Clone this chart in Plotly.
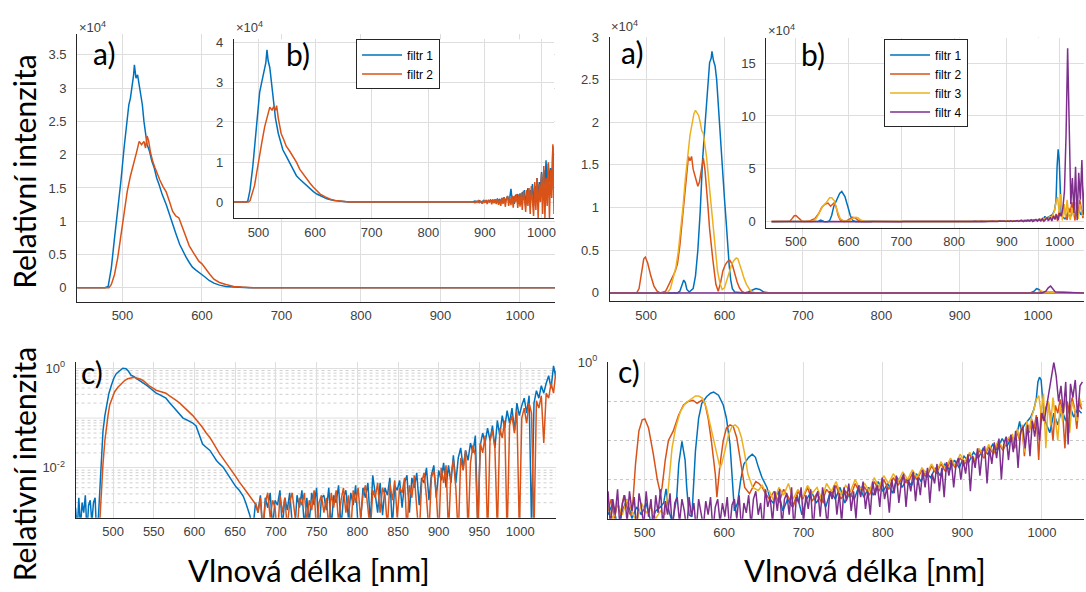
import numpy as np
import plotly.graph_objects as go

C1, C2, C3, C4 = "#0072BD", "#D95319", "#EDB120", "#7E2F8E"

# ================= Top-left a) : intensity (x10^4) =================
tla_f1_x = [443, 478, 482, 486, 490, 494, 498, 502, 505, 508, 510, 512, 514, 515, 517, 519, 521, 523, 525, 527,
            529, 531, 534, 537, 540, 543, 546, 550, 555, 559, 563, 567, 572, 576, 580, 584, 588, 592, 597, 603,
            609, 615, 622, 630, 640, 660, 1044]
tla_f1_y = [0, 0, 0.02, 0.3, 0.75, 1.15, 1.6, 2.1, 2.45, 2.75, 2.85, 3.0, 3.2, 3.35, 3.15, 3.2, 3.05, 2.95, 2.75, 2.5,
            2.3, 2.15, 2.05, 1.9, 1.8, 1.65, 1.55, 1.4, 1.25, 1.1, 0.95, 0.82, 0.65, 0.55, 0.46, 0.38, 0.31, 0.27, 0.23, 0.17,
            0.11, 0.07, 0.04, 0.02, 0.01, 0, 0]
tla_f2_x = [443, 483, 486, 490, 494, 498, 502, 506, 510, 514, 518, 521, 524, 527, 529, 531, 533, 535, 538, 541,
            544, 547, 551, 555, 559, 563, 567, 571, 575, 580, 584, 588, 592, 596, 600, 605, 610, 615, 622, 630,
            640, 650, 665, 1044]
tla_f2_y = [0, 0, 0.05, 0.2, 0.45, 0.8, 1.15, 1.45, 1.68, 1.85, 2.05, 2.2, 2.15, 2.2, 2.1, 2.28, 2.2, 2.05, 1.9, 1.8,
            1.7, 1.62, 1.52, 1.44, 1.3, 1.15, 1.08, 1.05, 0.92, 0.75, 0.63, 0.55, 0.47, 0.4, 0.36, 0.27, 0.2, 0.13, 0.08, 0.05,
            0.02, 0.01, 0, 0]

# ================= Top-left b) inset (x10^4) =================
tlb_f1_x = [456, 478, 481, 485, 490, 495, 499, 502, 505, 508, 511, 513, 515, 517, 520, 523, 526, 530, 535, 539,
            543, 549, 555, 561, 567, 573, 579, 585, 591, 597, 603, 612, 621, 633, 645, 660, 878]
tlb_f1_y = [0, 0, 0.02, 0.3, 0.9, 1.7, 2.38, 2.75, 2.96, 3.15, 3.29, 3.5, 3.82, 3.55, 3.37, 2.95, 2.55, 2.1, 1.72, 1.5,
            1.31, 1.15, 0.99, 0.82, 0.66, 0.57, 0.49, 0.4, 0.33, 0.26, 0.2, 0.13, 0.08, 0.04, 0.02, 0.0, 0.0]
tlb_f2_x = [456, 482, 485, 489, 493, 497, 502, 506, 511, 515, 520, 524, 527, 530, 532, 535, 540, 545, 549, 555,
            561, 567, 573, 579, 585, 591, 597, 603, 609, 618, 627, 636, 645, 660, 878]
tlb_f2_y = [0, 0, 0.03, 0.2, 0.41, 0.75, 1.23, 1.5, 1.89, 2.1, 2.38, 2.3, 2.4, 2.3, 2.42, 2.1, 1.72, 1.55, 1.4, 1.28,
            1.15, 1.0, 0.82, 0.7, 0.57, 0.47, 0.37, 0.28, 0.2, 0.13, 0.07, 0.04, 0.02, 0.0, 0.0]
tlb_noise_x = np.arange(880, 1023, 2)
tlb_f1_noise = [0.01, 0.02, -0.01, 0.02, 0.0, 0.03, 0.01, -0.02, 0.02, 0.04, 0.0, 0.03, -0.01, 0.04, 0.02, 0.05, 0.01, 0.06, -0.02, 0.05, 0.03,
                0.07, 0.02, 0.08, -0.03, 0.1, 0.04, 0.12, 0.0, 0.09, 0.15, 0.03, 0.12, 0.33, 0.05, 0.14, -0.05, 0.18, 0.08, 0.2, 0.02,
                0.22, -0.06, 0.25, 0.1, 0.3, -0.08, 0.2, 0.35, 0.0, 0.3, 0.15, 0.45, -0.1, 0.4, 0.2, 0.6, 0.05, 0.5, 0.3, 0.75,
                0.1, 0.8, 0.4, 1.05, 0.2, 0.95, 0.5, 0.85, 0.3, 1.4, 0.6]
tlb_f2_noise = [0.0, -0.02, 0.02, -0.01, 0.03, -0.03, 0.02, 0.01, -0.04, 0.04, -0.02, 0.05, -0.05, 0.04, 0.0, 0.06, -0.06, 0.05, -0.03, 0.07, -0.05,
                0.08, -0.07, 0.06, -0.1, 0.1, -0.05, 0.12, -0.12, 0.09, 0.14, -0.1, 0.12, -0.08, 0.16, -0.14, 0.15, 0.0, 0.2, -0.15, 0.18,
                -0.12, 0.22, -0.2, 0.28, 0.05, -0.25, 0.3, -0.1, 0.35, -0.3, 0.4, 0.1, -0.35, 0.5, -0.2, 0.6, -0.4, 0.45, 0.0, 0.7,
                -0.3, 0.9, -0.4, 0.6, -0.1, 1.0, -0.42, 0.8, 0.1, 1.45, -0.3]

# ================= Bottom-left c) : log10 of normalised intensity =================
blc_f1_pre_x = np.arange(454, 481, 2)
blc_f1_pre = [-2.8, -3.3, -2.6, -3.2, -2.7, -2.9, -2.55, -3.3, -2.75, -2.65, -3.1, -2.7, -2.6, -3.4]
blc_f1_sx = [482, 483.6, 485.5, 487.7, 490, 492, 495, 498, 501, 504, 508, 512, 516, 519, 522, 526, 529, 533, 537, 541,
             545, 549, 553, 557, 561, 565, 569, 574, 578, 582, 586, 590, 594, 598, 602, 606, 610, 614, 619, 623,
             627, 631, 635, 639, 643, 647, 651, 655, 660, 663, 666, 668, 670]
blc_f1_sv = [-3.0, -2.44, -1.8, -1.26, -0.95, -0.73, -0.5, -0.34, -0.2, -0.11, -0.05, 0.0, -0.01, -0.06, -0.14, -0.17, -0.21, -0.25, -0.3, -0.34,
             -0.39, -0.44, -0.5, -0.53, -0.57, -0.6, -0.68, -0.77, -0.85, -0.93, -1.0, -1.03, -1.06, -1.1, -1.16, -1.35, -1.52, -1.58, -1.65, -1.75,
             -1.85, -1.92, -1.98, -2.08, -2.18, -2.28, -2.38, -2.45, -2.57, -2.7, -2.83, -2.95, -3.1]
blc_f1_nx = np.arange(672, 1045, 3)
blc_f1_nv = [-3.2, -2.7, -2.9, -2.55, -3.3, -2.6, -2.8, -2.5, -3.2, -2.65,
             -2.75, -2.45, -3.2, -2.6, -2.85, -2.5, -3.1, -3.3, -2.55, -2.8,
             -2.45, -3.2, -2.6, -3.1, -2.5, -2.75, -2.4, -3.3, -2.6, -2.55,
             -2.85, -2.4, -3.2, -2.55, -2.7, -2.35, -3.2, -2.6, -2.45, -3.0,
             -2.5, -2.75, -2.35, -3.2, -3.1, -2.4, -2.6, -2.3, -3.1, -2.15,
             -2.5, -2.9, -2.3, -2.95, -2.4, -2.55, -2.2, -3.2, -2.35, -2.45,
             -2.25, -2.8, -2.3, -2.15, -2.9, -2.2, -2.4, -2.1, -2.75, -2.2,
             -2.3, -2.0, -2.65, -2.15, -1.95, -2.6, -2.05, -2.25, -1.9, -2.4,
             -1.95, -2.3, -1.75, -2.3, -1.8, -1.6, -2.0, -1.65, -1.85, -1.5,
             -1.7, -1.35, -3.2, -1.55, -1.3, -1.5, -1.2, -1.45, -1.15, -1.6,
             -1.05, -1.35, -0.95, -1.2, -0.85, -1.1, -0.8, -1.25, -0.7, -0.95,
             -0.75, -0.6, -0.9, -0.55, -3.2, -0.7, -0.45, -0.6, -0.35, -0.5,
             -0.3, -0.15, -0.4, 0.05, -0.2]
blc_f2_sx = [483, 485, 487.7, 490, 492, 494, 496, 499, 502, 506, 510, 514, 518, 522, 526, 530, 534, 538, 541, 545,
             549, 553, 557, 561, 565, 569, 574, 578, 582, 586, 590, 594, 598, 602, 606, 610, 614, 619, 623, 627,
             631, 635, 639, 643, 647, 651, 655, 660, 664, 668, 672, 676]
blc_f2_sv = [-3.3, -2.6, -1.92, -1.45, -1.13, -0.93, -0.73, -0.58, -0.47, -0.38, -0.31, -0.25, -0.21, -0.19, -0.18, -0.2, -0.22, -0.26, -0.31, -0.36,
             -0.4, -0.44, -0.46, -0.48, -0.5, -0.55, -0.6, -0.65, -0.7, -0.76, -0.82, -0.87, -0.95, -1.03, -1.1, -1.19, -1.29, -1.39, -1.5, -1.62,
             -1.72, -1.81, -1.9, -1.98, -2.08, -2.18, -2.28, -2.38, -2.48, -2.57, -2.65, -2.75]
blc_f2_nx = np.arange(678, 1045, 3)
blc_f2_nv = [-2.9, -2.6, -3.3, -2.7, -2.5, -3.0, -2.65, -2.8, -3.4, -2.55,
             -2.9, -2.6, -3.2, -2.7, -2.5, -2.95, -3.3, -2.6, -2.75, -2.5,
             -3.1, -2.65, -2.85, -2.45, -3.3, -2.7, -2.55, -2.9, -2.6, -3.2,
             -2.5, -2.8, -2.45, -3.1, -2.65, -2.4, -2.9, -2.55, -3.3, -2.45,
             -2.7, -2.4, -3.0, -2.55, -2.35, -2.8, -3.3, -2.45, -2.6, -2.3,
             -2.9, -2.4, -2.55, -3.2, -2.3, -2.65, -2.25, -3.0, -2.4, -2.5,
             -2.2, -3.3, -2.35, -2.6, -2.15, -2.8, -3.4, -2.3, -2.1, -2.6,
             -3.3, -2.2, -2.05, -2.5, -3.4, -2.0, -2.3, -1.95, -3.3, -2.15,
             -1.85, -2.4, -3.4, -1.8, -2.05, -1.65, -3.3, -1.9, -1.55, -1.75,
             -3.3, -1.5, -1.7, -1.35, -3.4, -1.45, -1.25, -1.6, -3.3, -1.2,
             -1.4, -1.05, -3.4, -1.15, -0.95, -1.3, -0.85, -3.3, -1.0, -0.8,
             -1.1, -0.7, -0.9, -3.3, -0.65, -0.8, -0.55, -1.5, -0.5, -0.6,
             -0.3, -0.5, -0.05]

# ================= Top-right a) : intensity (x10^4) =================
tra_f1_x = [453, 540, 543, 546, 548, 550, 552, 555, 560, 563, 566, 569, 572, 575, 577, 579, 581, 583, 584, 586,
            588, 590, 592, 594, 596, 598, 600, 602, 604, 606, 608, 610, 613, 625, 630, 635, 640, 645, 650, 658,
            990, 995, 998, 1001, 1004, 1059]
tra_f1_y = [0, 0, 0.02, 0.1, 0.15, 0.12, 0.04, 0.01, 0.05, 0.2, 0.5, 0.95, 1.55, 1.95, 2.2, 2.5, 2.7, 2.75, 2.83, 2.72,
            2.66, 2.5, 2.2, 1.95, 1.65, 1.4, 1.1, 0.85, 0.55, 0.32, 0.15, 0.05, 0.01, 0, 0.01, 0.03, 0.05, 0.04, 0.01, 0,
            0, 0.02, 0.05, 0.04, 0.01, 0]
tra_f2_x = [453, 488, 491, 494, 497, 499, 502, 506, 510, 514, 518, 525, 529, 533, 537, 540, 543, 546, 549, 552,
            554, 556, 558, 560, 562, 564, 566, 568, 570, 572, 573, 575, 577, 579, 581, 583, 585, 587, 589, 592,
            595, 598, 601, 604, 607, 610, 613, 616, 619, 622, 626, 1059]
tra_f2_y = [0, 0, 0.05, 0.25, 0.4, 0.42, 0.35, 0.2, 0.08, 0.02, 0, 0.02, 0.1, 0.18, 0.25, 0.34, 0.55, 0.84, 1.15, 1.45,
            1.6, 1.55, 1.6, 1.45, 1.38, 1.3, 1.25, 1.3, 1.42, 1.5, 1.58, 1.45, 1.26, 1.0, 0.75, 0.55, 0.4, 0.25, 0.1, 0.02,
            0.12, 0.26, 0.33, 0.37, 0.38, 0.33, 0.22, 0.13, 0.06, 0.02, 0, 0]
tra_f3_x = [453, 527, 531, 535, 538, 541, 544, 547, 550, 553, 556, 559, 561, 563, 565, 567, 569, 571, 573, 575,
            577, 579, 582, 585, 588, 591, 594, 597, 600, 603, 606, 609, 612, 615, 617, 619, 622, 625, 628, 632,
            636, 640, 1000, 1003, 1007, 1059]
tra_f3_y = [0, 0, 0.05, 0.18, 0.3, 0.48, 0.72, 1.0, 1.33, 1.6, 1.85, 2.0, 2.1, 2.14, 2.1, 2.08, 2.0, 1.9, 1.87, 1.75,
            1.6, 1.41, 1.1, 0.8, 0.5, 0.26, 0.12, 0.04, 0.06, 0.15, 0.24, 0.33, 0.38, 0.41, 0.4, 0.35, 0.26, 0.17, 0.1, 0.04,
            0.01, 0, 0, 0.03, 0.01, 0]
tra_f4_x = [453, 1005, 1010, 1013, 1016, 1019, 1022, 1059]
tra_f4_y = [0, 0, 0.02, 0.06, 0.08, 0.05, 0.01, 0]

# ================= Top-right b) / bottom-right c) : log10(I / I_max) =================
trc_peak = 16.4  # maximum (filtr 4 at ~1015 nm), x10^4

trc_f1_pre_x = np.arange(454, 521, 6)
trc_f1_pre = [-3.9, -3.6, -4.2, -3.8, -3.5, -4.0, -3.7, -3.9, -3.6, -4.1, -3.8, -3.7]
trc_f1_sx = [524, 527, 530.5, 535, 540.5, 543, 547, 551, 553, 556, 559.5, 564, 568, 572, 578, 583, 587, 593, 599, 603,
             607.5, 610.5, 613, 617, 621, 625, 631, 635.5, 639.5, 643.5, 647.6, 654, 658]
trc_f1_sv = [-3.6, -3.24, -3.8, -4.1, -3.45, -2.6, -2.02, -2.5, -3.2, -3.9, -3.95, -2.27, -1.43, -1.05, -0.88, -0.79, -0.76, -0.84, -1.09, -1.43,
             -2.1, -3.0, -3.8, -3.6, -3.0, -2.6, -2.43, -2.35, -2.43, -2.7, -2.94, -3.2, -3.5]
trc_f1_fx = np.arange(662, 957, 6)
trc_f1_fv = [-3.6, -3.3, -3.8, -3.5, -3.7, -3.4, -3.9, -3.5, -3.3, -3.6,
             -3.4, -3.7, -3.3, -3.5, -3.2, -3.6, -3.35, -3.5, -3.15, -3.45,
             -3.2, -3.4, -3.05, -3.3, -3.1, -3.35, -2.95, -3.2, -3.0, -3.15,
             -2.85, -3.05, -2.8, -2.95, -2.7, -2.9, -2.6, -2.75, -2.5, -2.7,
             -2.4, -2.55, -2.3, -2.45, -2.2, -2.35, -2.1, -2.25, -1.95, -2.15]
trc_f1_ex = [962, 966, 970, 972, 974, 978, 982, 986, 990, 993, 995, 997, 999, 1001, 1003, 1006, 1010, 1015, 1020, 1025,
             1030, 1035, 1040, 1045, 1050]
trc_f1_ev = [-1.9, -2.0, -1.7, -1.51, -1.76, -1.6, -1.5, -1.4, -1.2, -0.92, -0.5, -0.38, -0.45, -0.92, -1.43, -1.6, -1.8, -1.3, -1.6, -1.2,
             -1.5, -1.1, -1.4, -1.2, -1.3]

trc_f2_pre_x = np.arange(454, 483, 4)
trc_f2_pre = [-3.8, -3.5, -4.0, -3.6, -3.9, -3.4, -3.7, -3.9]
trc_f2_sx = [484.5, 488.6, 492.8, 497, 500.3, 505, 511, 516, 520, 522, 526, 530, 536, 543, 549, 555, 561, 566, 572, 576,
             580, 584, 589, 591, 595, 599, 603, 607.6, 611.6, 616, 620, 626, 632, 636, 640, 644, 648, 652]
trc_f2_sv = [-3.8, -2.6, -1.76, -1.47, -1.45, -1.68, -2.35, -3.0, -3.36, -3.2, -2.5, -2.0, -1.76, -1.34, -1.09, -1.0, -0.97, -1.05, -0.97, -1.05,
             -1.43, -2.0, -2.86, -3.45, -2.6, -2.0, -1.68, -1.6, -1.64, -1.93, -2.44, -3.2, -3.36, -3.2, -3.05, -3.1, -3.2, -3.35]
trc_f2_fx = np.arange(657, 958, 6)
trc_f2_fv = [-3.5, -3.3, -3.6, -3.25, -3.45, -3.7, -3.3, -3.5, -3.2, -3.55,
             -3.35, -3.6, -3.25, -3.4, -3.15, -3.5, -3.3, -3.45, -3.1, -3.35,
             -3.2, -3.4, -3.05, -3.3, -3.0, -3.25, -2.95, -3.15, -2.9, -3.1,
             -2.85, -3.0, -2.75, -2.95, -2.65, -2.85, -2.6, -2.8, -2.5, -2.7,
             -2.45, -2.6, -2.35, -2.55, -2.25, -2.45, -2.15, -2.35, -2.05, -2.25,
             -2.0]
trc_f2_ex = np.arange(963, 1051, 3)
trc_f2_ev = [-1.9, -2.2, -1.75, -2.0, -1.6, -2.4, -1.55, -1.8, -1.45, -1.7,
             -1.35, -2.5, -1.2, -1.5, -1.15, -1.0, -1.4, -2.0, -1.1, -1.3,
             -0.95, -1.25, -2.2, -1.0, -1.35, -0.9, -1.15, -1.7, -1.0, -1.2]

trc_f3_pre_x = np.arange(454, 521, 6)
trc_f3_pre = [-3.7, -4.0, -3.6, -3.9, -3.5, -3.8, -4.1, -3.6, -3.85, -3.7, -4.0, -3.8]
trc_f3_sx = [526, 530, 534.5, 539, 545, 551, 557, 564, 568, 573, 578, 584, 591, 595, 597, 601, 605.6, 610, 614, 618,
             622, 626, 630, 636, 643, 648, 652]
trc_f3_sv = [-3.9, -3.2, -2.2, -1.68, -1.26, -1.05, -0.97, -0.86, -0.86, -0.92, -1.18, -1.76, -2.35, -2.7, -2.6, -2.27, -1.85, -1.64, -1.6, -1.68,
             -1.93, -2.35, -2.86, -3.2, -3.28, -3.15, -3.3]
trc_f3_fx = np.arange(657, 958, 6)
trc_f3_fv = [-3.3, -3.55, -3.2, -3.4, -3.1, -3.5, -3.25, -3.45, -3.15, -3.35,
             -3.2, -3.5, -3.1, -3.3, -3.05, -3.4, -3.15, -3.3, -3.0, -3.25,
             -3.1, -3.3, -2.95, -3.2, -2.9, -3.1, -2.85, -3.05, -2.8, -3.0,
             -2.75, -2.95, -2.7, -2.85, -2.6, -2.8, -2.55, -2.7, -2.45, -2.65,
             -2.35, -2.55, -2.3, -2.5, -2.2, -2.4, -2.1, -2.3, -2.0, -2.2,
             -1.95]
trc_f3_ex = np.arange(963, 1051, 3)
trc_f3_ev = [-1.85, -2.1, -1.7, -1.95, -1.6, -2.3, -1.5, -1.75, -1.4, -1.2,
             -0.95, -0.85, -1.3, -0.8, -2.2, -1.0, -1.6, -0.9, -1.4, -2.0,
             -1.1, -1.5, -0.95, -1.3, -1.8, -1.0, -1.2, -1.5, -0.9, -1.1]

trc_f4_x = np.arange(454, 1052, 3)
trc_f4_v = [-3.3, -4.2, -3.5, -3.9, -3.25, -4.3, -3.6, -3.4, -4.1, -3.3,
            -3.8, -3.45, -4.3, -3.35, -3.7, -4.2, -3.3, -3.95, -3.5, -4.3,
            -3.4, -3.85, -3.25, -4.2, -3.55, -3.9, -3.35, -4.3, -3.6, -3.45,
            -4.1, -3.5, -3.8, -4.3, -3.45, -3.95, -3.6, -4.3, -3.5, -3.85,
            -4.2, -3.55, -3.9, -3.45, -4.3, -3.7, -3.5, -4.1, -3.6, -3.95,
            -3.45, -4.3, -3.65, -3.5, -4.0, -3.4, -4.3, -3.6, -3.85, -3.4,
            -4.2, -3.5, -3.3, -3.9, -3.6, -4.3, -3.25, -3.7, -3.45, -4.1,
            -3.3, -3.8, -3.25, -4.2, -3.5, -3.35, -3.9, -3.2, -4.3, -3.45,
            -3.6, -3.2, -4.1, -3.4, -3.75, -3.25, -4.3, -3.5, -3.3, -3.95,
            -3.2, -3.6, -4.2, -3.3, -3.5, -3.15, -3.9, -3.35, -4.1, -3.2,
            -3.55, -3.1, -3.8, -3.3, -4.0, -3.15, -3.45, -3.05, -3.75, -3.3,
            -3.9, -3.05, -3.4, -3.15, -3.7, -2.95, -3.5, -3.2, -3.85, -3.0,
            -3.35, -2.9, -3.6, -3.1, -2.85, -3.7, -3.0, -3.3, -2.8, -3.55,
            -2.95, -3.4, -2.75, -3.2, -2.7, -3.6, -2.85, -3.1, -2.6, -3.3,
            -2.7, -3.45, -2.55, -2.9, -2.5, -3.2, -2.6, -2.45, -3.0, -2.5,
            -2.85, -2.35, -3.3, -2.4, -2.7, -2.2, -2.9, -2.3, -2.15, -3.1,
            -2.2, -2.6, -2.05, -2.45, -1.95, -3.0, -2.1, -1.9, -2.5, -1.85,
            -2.3, -1.75, -2.7, -1.8, -1.65, -2.2, -1.6, -2.4, -1.5, -1.9,
            -1.4, -2.0, -1.3, -1.5, -1.1, -0.75, -0.3, 0.0, -0.35, -1.0,
            -0.6, -1.3, -0.5, -2.1, -0.55, -0.9, -0.45, -1.4, -0.6, -0.5]

# ---------------- assemble series ----------------
def cat(*parts):
    out = []
    for p in parts:
        out += [float(v) for v in p]
    return out

tlb_f1_X = cat(tlb_f1_x, tlb_noise_x); tlb_f1_Y = cat(tlb_f1_y, tlb_f1_noise)
tlb_f2_X = cat(tlb_f2_x, tlb_noise_x); tlb_f2_Y = cat(tlb_f2_y, tlb_f2_noise)
blc_f1_X = cat(blc_f1_pre_x, blc_f1_sx, blc_f1_nx); blc_f1_V = cat(blc_f1_pre, blc_f1_sv, blc_f1_nv)
blc_f2_X = cat(blc_f2_sx, blc_f2_nx); blc_f2_V = cat(blc_f2_sv, blc_f2_nv)
trc = [
    (cat(trc_f1_pre_x, trc_f1_sx, trc_f1_fx, trc_f1_ex), cat(trc_f1_pre, trc_f1_sv, trc_f1_fv, trc_f1_ev), C1, "filtr 1"),
    (cat(trc_f2_pre_x, trc_f2_sx, trc_f2_fx, trc_f2_ex), cat(trc_f2_pre, trc_f2_sv, trc_f2_fv, trc_f2_ev), C2, "filtr 2"),
    (cat(trc_f3_pre_x, trc_f3_sx, trc_f3_fx, trc_f3_ex), cat(trc_f3_pre, trc_f3_sv, trc_f3_fv, trc_f3_ev), C3, "filtr 3"),
    (cat(trc_f4_x), cat(trc_f4_v), C4, "filtr 4"),
]
for X, Y in [(tlb_f1_X, tlb_f1_Y), (tlb_f2_X, tlb_f2_Y), (blc_f1_X, blc_f1_V), (blc_f2_X, blc_f2_V)] + [(a, b) for a, b, _, _ in trc]:
    assert len(X) == len(Y), (len(X), len(Y))

fig = go.Figure()
LW = 1.5

def add(x, y, color, ax, name=None, legend=None):
    fig.add_trace(go.Scatter(x=x, y=y, mode="lines", line=dict(color=color, width=LW),
                             xaxis="x" + ax, yaxis="y" + ax, name=name or "",
                             showlegend=legend is not None, legend=legend or "legend",
                             hoverinfo="skip"))

add(tla_f1_x, tla_f1_y, C1, "")
add(tla_f2_x, tla_f2_y, C2, "")
add(tlb_f1_X, tlb_f1_Y, C1, "2", "filtr 1", "legend")
add(tlb_f2_X, tlb_f2_Y, C2, "2", "filtr 2", "legend")
add(tra_f1_x, tra_f1_y, C1, "3")
add(tra_f2_x, tra_f2_y, C2, "3")
add(tra_f3_x, tra_f3_y, C3, "3")
add(tra_f4_x, tra_f4_y, C4, "3")
for X, V, c, n in trc:
    add(X, [trc_peak * 10 ** v for v in V], c, "4", n, "legend2")
add(blc_f1_X, [10 ** v for v in blc_f1_V], C1, "5")
add(blc_f2_X, [10 ** v for v in blc_f2_V], C2, "5")
for X, V, c, n in trc:
    add(X, [10 ** v for v in V], c, "6")

W, H = 1086, 592
def px(x0, x1):
    return [x0 / W, x1 / W]
def py(top, bottom):
    return [1 - bottom / H, 1 - top / H]

TF = dict(family="Liberation Sans, Arial, sans-serif", size=13, color="#404040")
GRID = "#dedede"
AX = "#262626"

def xax(dom, rng, anchor, dtick):
    return dict(domain=dom, range=rng, anchor=anchor, showline=True, linecolor=AX, linewidth=1,
                ticks="", showgrid=True, gridcolor=GRID, gridwidth=1, zeroline=False,
                tickmode="linear", tick0=500, dtick=dtick, tickfont=TF, ticklabelstandoff=2)

def yax(dom, rng, anchor, dtick):
    return dict(domain=dom, range=rng, anchor=anchor, showline=True, linecolor=AX, linewidth=1,
                ticks="", showgrid=True, gridcolor=GRID, gridwidth=1, zeroline=False,
                tickmode="linear", tick0=0, dtick=dtick, tickfont=TF, ticklabelstandoff=7)

LEGFONT = dict(family="Liberation Sans, Arial", size=12, color="#000")
layout = dict(
    width=W, height=H, margin=dict(l=0, r=0, t=0, b=0),
    paper_bgcolor="white", plot_bgcolor="white",
    xaxis=xax(px(77.3, 556), [443, 1044], "y", 100),
    yaxis=yax(py(25, 298.3), [-0.21, 3.82], "x", 0.5),
    xaxis2=xax(px(234.3, 555), [456.5, 1022], "y2", 100),
    yaxis2=yax(py(31, 213.3), [-0.41, 4.08], "x2", 1),
    xaxis3=xax(px(610.7, W), [453.4, 1058.6], "y3", 100),
    yaxis3=yax(py(28.3, 297.7), [-0.097, 3.002], "x3", 0.5),
    xaxis4=xax(px(767.7, W), [444, 1046], "y4", 100),
    yaxis4=yax(py(29.3, 222.7), [-0.56, 17.4], "x4", 5),
    xaxis5=xax(px(75.7, 557), [454, 1044], "y5", 50),
    yaxis5=dict(domain=py(360, 518.3), range=[-3, 0.12], type="log", anchor="x5", showline=True,
                linecolor=AX, linewidth=1, ticks="", showgrid=True, gridcolor=GRID, zeroline=False,
                tickmode="array", tickvals=[1e-2, 1],
                ticktext=["10<sup>-2</sup>", "10<sup>0</sup>"], tickfont=TF, ticklabelstandoff=7),
    xaxis6=xax(px(609, W), [453.8, 1053], "y6", 100),
    yaxis6=dict(domain=py(360, 519.3), range=[-4, 0.002], type="log", anchor="x6", showline=True,
                linecolor=AX, linewidth=1, ticks="", showgrid=True, gridcolor=GRID,
                zeroline=False, tickmode="array", tickvals=[1],
                ticktext=["10<sup>0</sup>"], tickfont=TF, ticklabelstandoff=7),
    legend=dict(x=356.7 / W, y=1 - 31 / H, xanchor="left", yanchor="top", bgcolor="white",
                bordercolor=AX, borderwidth=1, font=LEGFONT, tracegroupgap=0, itemwidth=40),
    legend2=dict(x=885.7 / W, y=1 - 31 / H, xanchor="left", yanchor="top", bgcolor="white",
                 bordercolor=AX, borderwidth=1, font=LEGFONT, tracegroupgap=0, itemwidth=40),
)

shapes = []
for d in [-3, -2, -1]:
    for k in range(2, 10):
        shapes.append(dict(type="line", xref="x5 domain", yref="y5", x0=0, x1=1,
                           y0=k * 10 ** d, y1=k * 10 ** d, layer="below",
                           line=dict(color="#cfcfcf", width=1, dash="dot")))
shapes.append(dict(type="line", xref="x5 domain", yref="y5", x0=0, x1=1, y0=0.1, y1=0.1, layer="below",
                   line=dict(color=GRID, width=1)))
for yv in [1e-1, 1e-2, 1e-3]:
    shapes.append(dict(type="line", xref="x6 domain", yref="y6", x0=0, x1=1, y0=yv, y1=yv, layer="below",
                       line=dict(color="#c4c4c4", width=1, dash="dot")))
layout["shapes"] = shapes

ann = []
def text(x, y, s, size, font="Lato, 'Open Sans', sans-serif", color="#000", xanchor="center", angle=0):
    ann.append(dict(x=x / W, y=1 - y / H, xref="paper", yref="paper", text=s, showarrow=False,
                    xanchor=xanchor, yanchor="middle", textangle=angle,
                    font=dict(family=font, size=size, color=color)))

EXP = "×10<sup>4</sup>"
for (x, y) in [(77, 18), (234, 18), (610, 17), (767, 21)]:
    text(x, y, EXP, 13, font="Liberation Sans, Arial", color="#404040", xanchor="left")
for (x, y, s) in [(104, 45, "a)"), (299, 46, "b)"), (633, 44, "a)"), (815, 46, "b)"),
                  (92, 370, "c)"), (630, 369, "c)")]:
    text(x, y, s, 30)
text(24, 166, "Relativní intenzita", 30, angle=-90)
text(24, 464, "Relativní intenzita", 30, angle=-90)
text(310, 572, "Vlnová délka [nm]", 31)
text(867, 572, "Vlnová délka [nm]", 31)
layout["annotations"] = ann

fig.update_layout(**layout)
fig.write_html("out.html")
